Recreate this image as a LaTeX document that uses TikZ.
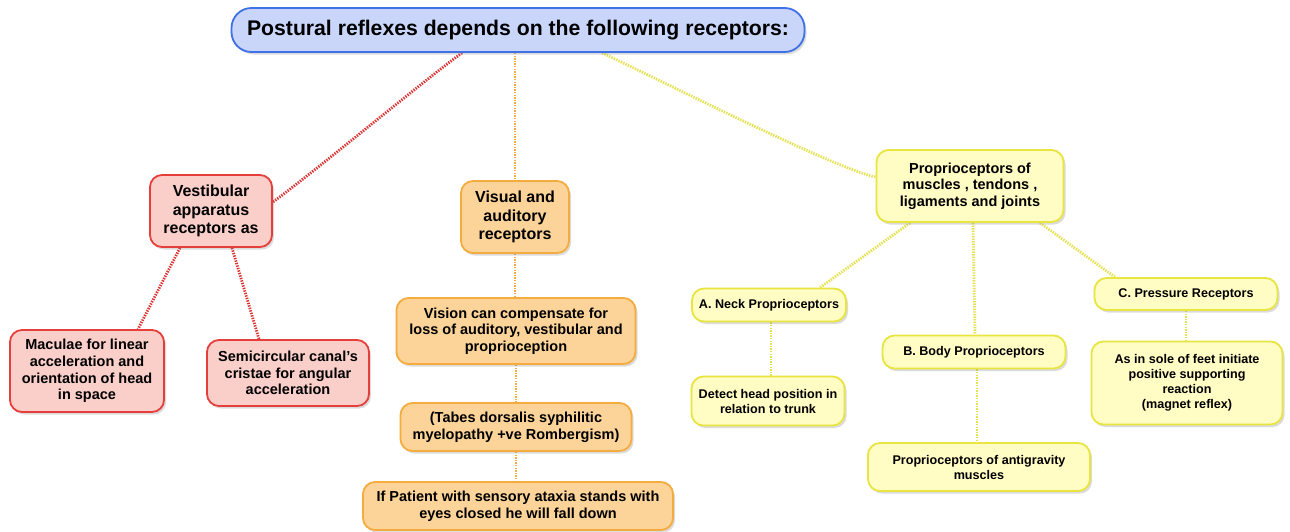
\documentclass[tikz,border=0pt]{standalone}
\usepackage{fontspec}
\setmainfont{Liberation Sans}
\usetikzlibrary{shadows,calc}
\definecolor{tfill}{RGB}{201,214,250}
\definecolor{tdraw}{RGB}{62,112,230}
\definecolor{rfill}{RGB}{250,207,201}
\definecolor{rdraw}{RGB}{230,62,58}
\definecolor{ofill}{RGB}{252,211,152}
\definecolor{odraw}{RGB}{245,172,62}
\definecolor{yfill}{RGB}{255,252,196}
\definecolor{ydraw}{RGB}{232,228,64}
\definecolor{rline}{RGB}{222,52,52}
\definecolor{oline}{RGB}{244,172,66}
\definecolor{yline}{RGB}{230,225,78}
\pgfdeclarelayer{back}
\pgfdeclarelayer{bg}
\pgfsetlayers{back,bg,main}
\tikzset{
  box/.style={draw, line width=1.8pt, rounded corners=12pt, align=center, inner sep=0pt,
    font=\bfseries, drop shadow={opacity=0.28, shadow xshift=2pt, shadow yshift=-2.5pt}},
  tbox/.style={box, fill=tfill, draw=tdraw, rounded corners=20pt},
  rbox/.style={box, fill=rfill, draw=rdraw},
  obox/.style={box, fill=ofill, draw=odraw},
  ybox/.style={box, fill=yfill, draw=ydraw},
  conn/.style={line width=2.8pt, dash pattern=on 1.4pt off 1.2pt},
  rconn/.style={conn, draw=rline},
  oconn/.style={conn, draw=oline},
  yconn/.style={conn, draw=yline},
  fbig/.style={font=\bfseries\fontsize{16}{18.3}\selectfont},
  fmid/.style={font=\bfseries\fontsize{14.5}{16.6}\selectfont},
  fsmall/.style={font=\bfseries\fontsize{12.6}{15}\selectfont}
}
\begin{document}
\begin{tikzpicture}[x=1pt,y=-1pt]
\begin{pgfonlayer}{back}
\fill[white] (0,0) rectangle (1290,531);
\end{pgfonlayer}
\useasboundingbox (0,0) rectangle (1290,531);

\node[tbox, minimum width=573, minimum height=44, font=\bfseries\fontsize{21.2}{24}\selectfont] (title) at (518,30) {Postural reflexes depends on the following receptors:};

\node[rbox, fbig, minimum width=122, minimum height=72] (vest) at (211,211) {Vestibular\\apparatus\\receptors as};
\node[obox, fbig, minimum width=108, minimum height=72] (vis) at (515,217) {Visual and\\auditory\\receptors};
\node[ybox, fmid, minimum width=187, minimum height=72] (prop) at (970,186) {Proprioceptors of\\muscles , tendons ,\\ligaments and joints};

\node[rbox, fmid, minimum width=154, minimum height=82] (mac) at (87,371) {Maculae for linear\\acceleration and\\orientation of head\\in space};
\node[rbox, fmid, minimum width=162, minimum height=66] (semi) at (288,373) {Semicircular canal's\\cristae for angular\\acceleration};

\node[obox, fmid, minimum width=239, minimum height=66] (vision) at (516,331) {Vision can compensate for\\loss of auditory, vestibular and\\proprioception};
\node[obox, fmid, minimum width=231, minimum height=48] (tabes) at (516,427) {(Tabes dorsalis syphilitic\\myelopathy +ve Rombergism)};
\node[obox, fmid, minimum width=310, minimum height=48] (ifp) at (518,506) {If Patient with sensory ataxia stands with\\eyes closed he will fall down};

\node[ybox, fsmall, minimum width=154, minimum height=33] (neck) at (769,305) {A. Neck Proprioceptors};
\node[ybox, fsmall, minimum width=153, minimum height=49] (detect) at (768,401) {Detect head position in\\relation to trunk};
\node[ybox, fsmall, minimum width=183, minimum height=33] (body) at (974,352) {B. Body Proprioceptors};
\node[ybox, fsmall, minimum width=222, minimum height=48] (anti) at (979,467) {Proprioceptors of antigravity\\muscles};
\node[ybox, fsmall, minimum width=183, minimum height=32] (press) at (1186,294) {C. Pressure Receptors};
\node[ybox, fsmall, minimum width=191, minimum height=83] (sole) at (1187,383) {As in sole of feet initiate\\positive supporting\\reaction\\(magnet reflex)};

\begin{pgfonlayer}{bg}
\draw[rconn] ($(title.south)+(-56,0)$) .. controls +(-35,25) and +(35,-25) .. ($(vest.east)+(0,-9)$);
\draw[oconn] (vis.north |- title.south) -- (vis.north);
\draw[yconn] ($(title.south)+(84,0)$) .. controls +(60,28) and +(-40,-8) .. ($(prop.west)+(0,-9)$);

\draw[rconn] ($(vest.south)+(-31,0)$) -- ($(mac.north)+(51,0)$);
\draw[rconn] ($(vest.south)+(21,0)$) -- ($(semi.north)+(-29,0)$);

\draw[oconn] (vis.south) -- (vis.south |- vision.north);
\draw[oconn] (vision.south) -- (tabes.north);
\draw[oconn] (tabes.south) -- (tabes.south |- ifp.north);

\draw[yconn] ($(prop.south)+(-60,0)$) -- ($(neck.north)+(51,0)$);
\draw[yconn] ($(prop.south)+(3,0)$) -- ($(body.north)+(1,0)$);
\draw[yconn] ($(prop.south)+(70,0)$) -- ($(press.north)+(-71,0)$);
\draw[yconn] ($(neck.south)+(2,0)$) -- ($(detect.north)+(3,0)$);
\draw[yconn] ($(body.south)+(3,0)$) -- ($(anti.north)+(-2,0)$);
\draw[yconn] (press.south) -- (press.south |- sole.north);
\end{pgfonlayer}
\end{tikzpicture}
\end{document}
